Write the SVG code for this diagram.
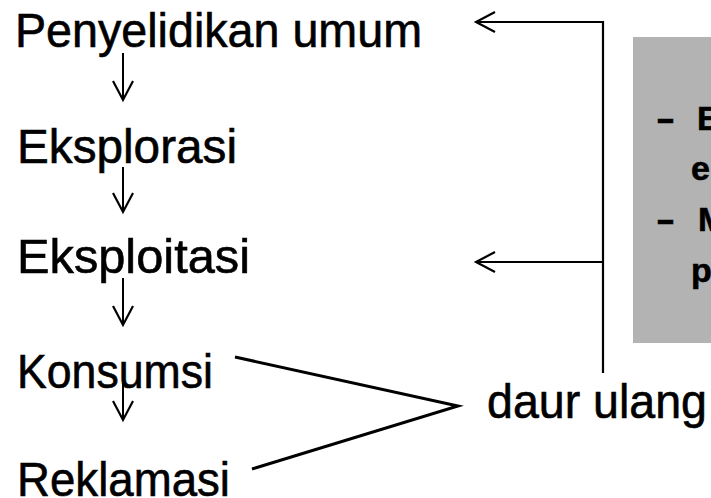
<svg xmlns="http://www.w3.org/2000/svg" width="711" height="498" viewBox="0 0 711 498">
  <style>
    .lbl { font-family: "Liberation Sans", Arial, sans-serif; font-size: 48px; fill: #000; stroke: #000; stroke-width: 0.6; }
    .box { font-family: "Liberation Sans", Arial, sans-serif; font-size: 34px; font-weight: bold; fill: #000; stroke: #000; stroke-width: 0.6; }
    .arr { fill: none; stroke: #000; stroke-width: 2; }
    .cyc { fill: none; stroke: #000; stroke-width: 2.2; }
    .join { fill: none; stroke: #000; stroke-width: 3; stroke-linejoin: miter; }
  </style>
  <defs>
    <marker id="chev" markerUnits="userSpaceOnUse" markerWidth="30" markerHeight="30" refX="0" refY="0" viewBox="-25 -15 30 30" orient="auto" overflow="visible">
      <path d="M -19 -10 L 0 0 L -19 10" fill="none" stroke="#000" stroke-width="2.2"/>
    </marker>
  </defs>
  <rect width="711" height="498" fill="#fff"/>

  <g id="note-box">
    <rect x="633" y="37" width="90" height="306" fill="#b3b3b3"/>
    <text class="box" x="656" y="130"><tspan textLength="19" lengthAdjust="spacingAndGlyphs">-</tspan><tspan x="697">E</tspan></text>
    <text class="box" x="691" y="180">e</text>
    <text class="box" x="656" y="231"><tspan textLength="19" lengthAdjust="spacingAndGlyphs">-</tspan><tspan x="698">M</tspan></text>
    <text class="box" x="691" y="282">p</text>
  </g>

  <g id="connectors">
    <line class="arr" x1="123" y1="53" x2="123" y2="100" marker-end="url(#chev)"/>
    <line class="arr" x1="123" y1="167" x2="123" y2="212" marker-end="url(#chev)"/>
    <line class="arr" x1="123" y1="278" x2="123" y2="325" marker-end="url(#chev)"/>
    <line class="arr" x1="123" y1="383" x2="123" y2="420" marker-end="url(#chev)"/>
    <line class="cyc" x1="603" y1="373" x2="603" y2="21"/>
    <line class="cyc" x1="604" y1="22" x2="476" y2="22" marker-end="url(#chev)"/>
    <line class="cyc" x1="603" y1="262" x2="476" y2="262" marker-end="url(#chev)"/>
    <polyline class="join" points="235,357 458,406 252,469"/>
  </g>

  <g id="node-penyelidikan">
    <text class="lbl" x="15" y="47" textLength="407" lengthAdjust="spacingAndGlyphs">Penyelidikan umum</text>
  </g>
  <g id="node-eksplorasi">
    <text class="lbl" x="17" y="163" textLength="220" lengthAdjust="spacingAndGlyphs">Eksplorasi</text>
  </g>
  <g id="node-eksploitasi">
    <text class="lbl" x="17" y="273" textLength="233" lengthAdjust="spacingAndGlyphs">Eksploitasi</text>
  </g>
  <g id="node-konsumsi">
    <text class="lbl" x="17" y="388" textLength="196" lengthAdjust="spacingAndGlyphs">Konsumsi</text>
  </g>
  <g id="node-reklamasi">
    <text class="lbl" x="17" y="496" textLength="213" lengthAdjust="spacingAndGlyphs">Reklamasi</text>
  </g>
  <g id="node-daur-ulang">
    <text class="lbl" x="487" y="418" textLength="220" lengthAdjust="spacingAndGlyphs">daur ulang</text>
  </g>
</svg>
